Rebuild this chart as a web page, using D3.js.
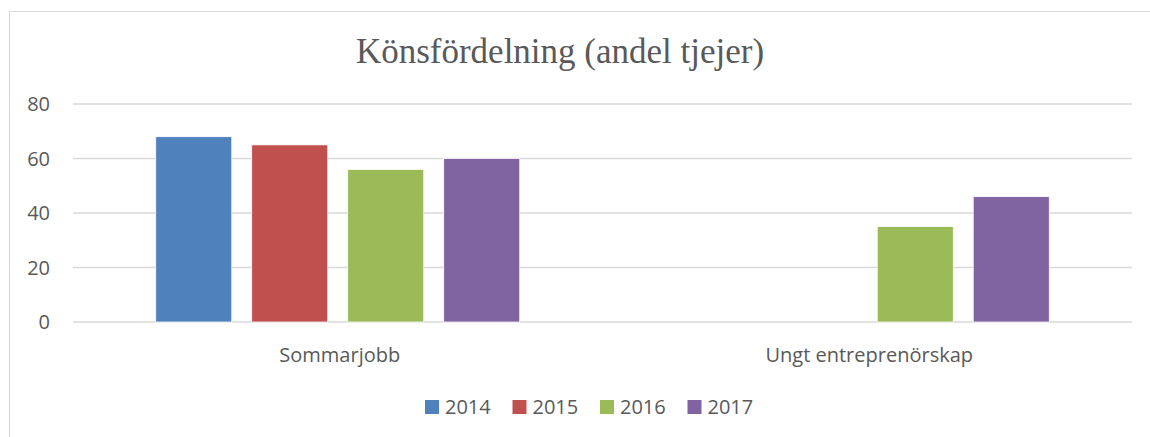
<!DOCTYPE html>
<html>
<head>
<meta charset="utf-8">
<script src="https://cdn.jsdelivr.net/npm/d3@7"></script>
<style>
  body { margin: 0; background: #fff; }
  svg { display: block; }
  .tick-label, .cat-label, .legend-label { font-family: "Open Sans", sans-serif; fill: #595959; }
</style>
</head>
<body>
<div id="chart"></div>
<script>
const categories = ["Sommarjobb", "Ungt entreprenörskap"];
const years = ["2014", "2015", "2016", "2017"];
const values2014 = [68, null];
const values2015 = [65, null];
const values2016 = [56, 35];
const values2017 = [60, 46];
const yTicks = [0, 20, 40, 60, 80];
const colors = ["#4F81BD", "#C0504D", "#9BBB59", "#8064A2"];

const series = [values2014, values2015, values2016, values2017];
const width = 1150, height = 437;
const plot = { left: 73, right: 1132, top: 104, bottom: 322 };

const svg = d3.select("#chart").append("svg")
  .attr("width", width)
  .attr("height", height);

// chart border
svg.append("rect")
  .attr("x", 9.5).attr("y", 11.5)
  .attr("width", 1160).attr("height", 460)
  .attr("fill", "none")
  .attr("stroke", "#d9d9d9")
  .attr("stroke-width", 1);

svg.append("text")
  .attr("x", 560)
  .attr("y", 63)
  .attr("text-anchor", "middle")
  .style("font-family", "'Liberation Serif', 'Times New Roman', serif")
  .style("font-size", "35px")
  .style("fill", "#595959")
  .text("Könsfördelning (andel tjejer)");

const x = d3.scaleBand().domain(categories).range([plot.left, plot.right]);
const y = d3.scaleLinear().domain([0, 80]).range([plot.bottom, plot.top]);

// gridlines
svg.append("g").selectAll("line")
  .data(yTicks)
  .join("line")
  .attr("x1", plot.left).attr("x2", plot.right)
  .attr("y1", d => y(d)).attr("y2", d => y(d))
  .attr("stroke", "#d9d9d9")
  .attr("stroke-width", 1.5);

svg.append("g").selectAll("text")
  .data(yTicks)
  .join("text")
  .attr("class", "tick-label")
  .attr("x", 50)
  .attr("y", d => y(d))
  .attr("dy", "0.36em")
  .attr("text-anchor", "end")
  .style("font-size", "20px")
  .text(d => d);

// bars
const groupWidth = 364;
categories.forEach((cat, ci) => {
  const center = x(cat) + x.bandwidth() / 2;
  const inner = d3.scaleBand().domain(years)
    .range([center - groupWidth / 2, center + groupWidth / 2])
    .paddingInner(0.208);
  const rows = years.map((yr, i) => ({ year: yr, value: series[i][ci], color: colors[i] }))
    .filter(d => d.value != null);
  svg.append("g").selectAll("rect")
    .data(rows)
    .join("rect")
    .attr("x", d => inner(d.year))
    .attr("width", inner.bandwidth())
    .attr("y", d => y(d.value))
    .attr("height", d => y(0) - y(d.value))
    .attr("fill", d => d.color)
    .attr("stroke", "#fff")
    .attr("stroke-width", 0.75);
});

svg.append("g").selectAll("text")
  .data(categories)
  .join("text")
  .attr("class", "cat-label")
  .attr("x", d => x(d) + x.bandwidth() / 2 + 2)
  .attr("y", 362)
  .attr("text-anchor", "middle")
  .style("font-size", "20px")
  .text(d => d);

// legend
const legend = svg.append("g").selectAll("g")
  .data(years)
  .join("g")
  .attr("transform", (d, i) => `translate(${425 + i * 87.5},400)`);

legend.append("rect")
  .attr("width", 14).attr("height", 14)
  .attr("fill", (d, i) => colors[i]);

legend.append("text")
  .attr("class", "legend-label")
  .attr("x", 20)
  .attr("y", 7)
  .attr("dy", "0.36em")
  .style("font-size", "20px")
  .text(d => d);
</script>
</body>
</html>
